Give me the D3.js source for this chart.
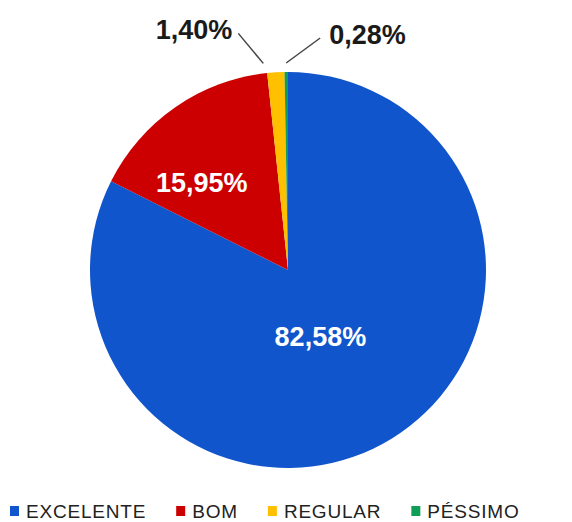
<!DOCTYPE html>
<html>
<head>
<meta charset="utf-8">
<script src="https://cdn.jsdelivr.net/npm/d3@7"></script>
<style>
  body { margin: 0; background: #fff; }
  svg { display: block; font-family: Arial, "Liberation Sans", sans-serif; }
</style>
</head>
<body>
<script>
const categories = ['EXCELENTE', 'BOM', 'REGULAR', 'PÉSSIMO'];
const values = [82.58, 15.95, 1.40, 0.28];
const labels = ['82,58%', '15,95%', '1,40%', '0,28%'];
const colors = ['#1155cc', '#cc0000', '#ffc000', '#0f9d58'];

const w = 572, h = 522;
const cx = 288, cy = 270, r = 198;

const svg = d3.select('body').append('svg').attr('width', w).attr('height', h);

const pie = d3.pie().sort(null).value(d => d);
const arcs = pie(values);
const arc = d3.arc().innerRadius(0).outerRadius(r);

const g = svg.append('g').attr('transform', `translate(${cx},${cy})`);

g.selectAll('path')
  .data(arcs)
  .enter()
  .append('path')
  .attr('d', arc)
  .attr('fill', (d, i) => colors[i]);

// inside labels (big slices)
const innerLabelArc = [d3.arc().innerRadius(0).outerRadius(150), d3.arc().innerRadius(0).outerRadius(240)];
const innerNudge = [[-7, 3], [-18, 12]];
[0, 1].forEach(i => {
  const c = innerLabelArc[i].centroid(arcs[i]);
  g.append('text')
    .attr('x', c[0] + innerNudge[i][0])
    .attr('y', c[1] + innerNudge[i][1])
    .attr('text-anchor', 'middle')
    .attr('dominant-baseline', 'central')
    .attr('fill', '#fff')
    .attr('font-weight', 'bold')
    .attr('font-size', 27)
    .text(labels[i]);
});

// outside labels with leader lines
const lineStart = d3.arc().innerRadius(r + 9).outerRadius(r + 9);
const outside = [
  { i: 2, nudge: -12, dx: -25, dy: -30, anchor: 'end' },
  { i: 3, nudge: 0, dx: 34, dy: -25, anchor: 'start' }
];
outside.forEach(o => {
  const mid = (arcs[o.i].startAngle + arcs[o.i].endAngle) / 2;
  const p = lineStart.centroid({ startAngle: mid, endAngle: mid });
  const x0 = p[0] + o.nudge, y0 = p[1];
  const x1 = x0 + o.dx, y1 = y0 + o.dy;
  g.append('line')
    .attr('x1', x0).attr('y1', y0)
    .attr('x2', x1).attr('y2', y1)
    .attr('stroke', '#444')
    .attr('stroke-width', 1.5);
  g.append('text')
    .attr('x', x1 + (o.anchor === 'end' ? -6 : 9))
    .attr('y', y1 - 3)
    .attr('text-anchor', o.anchor)
    .attr('dominant-baseline', 'central')
    .attr('fill', '#1a1a1a')
    .attr('font-weight', 'bold')
    .attr('font-size', 27)
    .text(labels[o.i]);
});

// legend
const legend = svg.append('g');
let lx = 10;
categories.forEach((c, i) => {
  legend.append('rect')
    .attr('x', lx).attr('y', 506)
    .attr('width', 9).attr('height', 10)
    .attr('fill', colors[i]);
  const t = legend.append('text')
    .attr('x', lx + 16)
    .attr('y', 518)
    .attr('font-size', 19)
    .attr('letter-spacing', 0.8)
    .attr('fill', '#222')
    .text(c);
  lx += 16 + t.node().getComputedTextLength() + 30;
});
</script>
</body>
</html>
